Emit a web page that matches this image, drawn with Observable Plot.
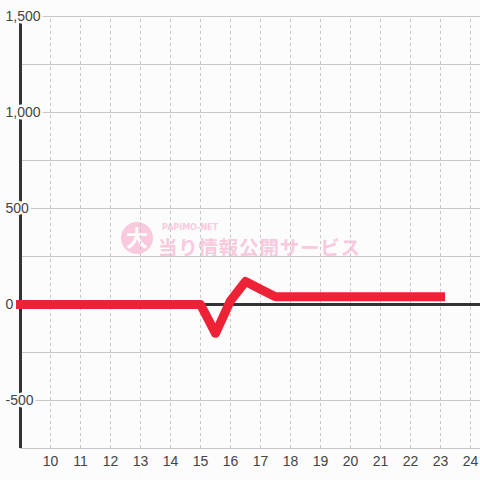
<!DOCTYPE html>
<html>
<head>
<meta charset="utf-8">
<script src="https://cdn.jsdelivr.net/npm/d3@7"></script>
<script src="https://cdn.jsdelivr.net/npm/@observablehq/plot@0.6"></script>
<style>
  html, body { margin: 0; padding: 0; background: #fcfcfc; }
  #chart svg { display: block; }
</style>
</head>
<body>
<div id="chart"></div>
<script>
// Data
const hours = [9, 9.5, 10, 10.5, 11, 11.5, 12, 12.5, 13, 13.5, 14, 14.5, 15, 15.5, 16, 16.5, 17, 17.5, 18, 18.5, 19, 19.5, 20, 20.5, 21, 21.5, 22, 22.5, 23];
const values = [0, 0, 0, 0, 0, 0, 0, 0, 0, 0, 0, 0, 0, -150, 20, 120, 80, 40, 40, 40, 40, 40, 40, 40, 40, 40, 40, 40, 40];
const xTicks = [10, 11, 12, 13, 14, 15, 16, 17, 18, 19, 20, 21, 22, 23, 24];
const yGrid = [-750, -500, -250, 0, 250, 500, 750, 1000, 1250, 1500];
const yLabels = [-500, 0, 500, 1000, 1500];

const data = hours.map((h, i) => ({ h, v: values[i] }));
const fmt = d => d3.format(",")(d).replace("\u2212", "-");
const font = "'Liberation Sans', Arial, sans-serif";

const xMin = 9, xMax = 9 + 460 / 30;

const chart = Plot.plot({
  width: 480,
  height: 480,
  marginLeft: 20,
  marginRight: 0,
  marginTop: 16,
  marginBottom: 32,
  style: { background: "#fcfcfc", fontFamily: font },
  x: { domain: [xMin, xMax], axis: null },
  y: { domain: [-750, 1500], axis: null },
  marks: [
    Plot.ruleX(xTicks, { x: d => d, y1: -750, y2: 1500, stroke: "#c8c8c8", strokeDasharray: "3,3", strokeWidth: 1 }),
    Plot.ruleY(yGrid, { y: d => d, x1: xMin, x2: xMax, stroke: "#c8c8c8", strokeWidth: 1 }),
    Plot.ruleY([0], { x1: xMin, x2: xMax, stroke: "#333", strokeWidth: 3 }),
    Plot.ruleX([xMin], { y1: -750, y2: 1500, stroke: "#333", strokeWidth: 3 }),
    Plot.text(yLabels, { x: xMin, y: d => d, text: d => fmt(d), textAnchor: "start", dx: -15, fontSize: 14, fill: "#444", stroke: "#fcfcfc", strokeWidth: 5 }),
    Plot.text(xTicks, { x: d => d, y: -750, text: d => String(d), dy: 13, fontSize: 14, fill: "#444" })
  ]
});

document.getElementById("chart").appendChild(chart);

// Watermark (decoration) placed behind the marks
const svg = d3.select(chart);
const wm = svg.insert("g", ":first-child + *").attr("text-anchor", "start");
const pink = "#f9c9de";
wm.append("circle").attr("cx", 137).attr("cy", 238).attr("r", 16).attr("fill", pink);
wm.append("text").attr("x", 137).attr("y", 246).attr("text-anchor", "middle")
  .attr("font-family", "'Noto Sans CJK JP', sans-serif").attr("font-weight", "bold")
  .attr("font-size", 22).attr("fill", "#fcfcfc").text("大");
wm.append("text").attr("x", 158).attr("y", 255)
  .attr("font-family", "'Noto Sans CJK JP', sans-serif").attr("font-weight", "bold")
  .attr("font-size", 19.5).attr("fill", pink).attr("textLength", 202).text("当り情報公開サービス");
wm.append("text").attr("x", 162).attr("y", 230)
  .attr("font-family", "'DejaVu Sans', sans-serif").attr("font-weight", "bold")
  .attr("font-size", 8).attr("fill", pink).attr("textLength", 56).text("PAPIMO-NET");

// Data line drawn on top
const line = Plot.plot({
  width: 480, height: 480, marginLeft: 20, marginRight: 0, marginTop: 16, marginBottom: 32,
  x: { domain: [xMin, xMax], axis: null },
  y: { domain: [-750, 1500], axis: null },
  marks: [
    Plot.line(data, { x: "h", y: "v", stroke: "#ee2237", strokeWidth: 9, strokeLinecap: "square", strokeLinejoin: "round" })
  ]
});
d3.select(line).selectAll("g[aria-label='line']").each(function() { chart.appendChild(this); });
</script>
</body>
</html>
